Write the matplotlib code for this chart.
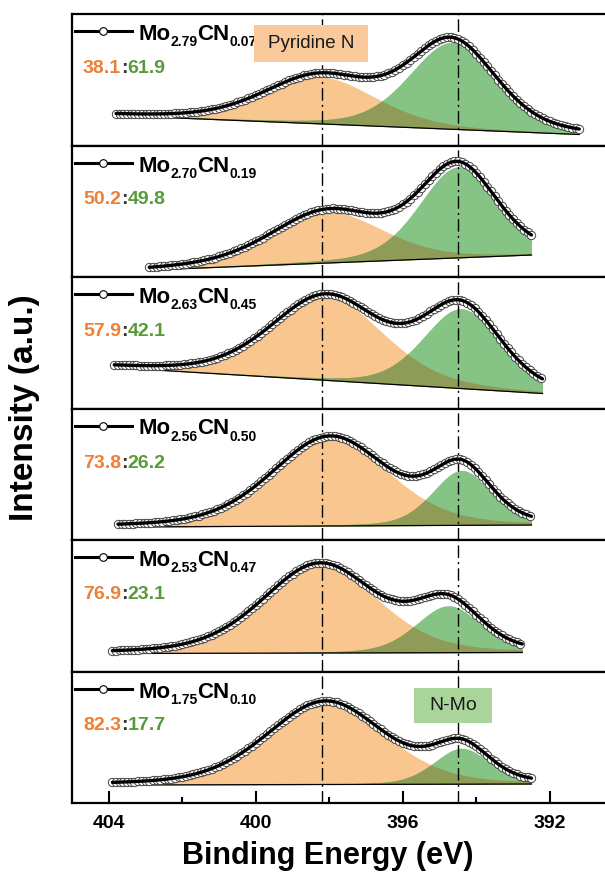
import numpy as np
import matplotlib
matplotlib.use('Agg')
import matplotlib.pyplot as plt
from matplotlib.patches import Rectangle

plt.rcParams['font.family'] = ['Liberation Sans', 'DejaVu Sans']

# ---------------- data ----------------
mo_sub = ['2.79', '2.70', '2.63', '2.56', '2.53', '1.75']
n_sub = ['0.07', '0.19', '0.45', '0.50', '0.47', '0.10']
pyridine_pct = ['38.1', '50.2', '57.9', '73.8', '76.9', '82.3']
nmo_pct = ['61.9', '49.8', '42.1', '26.2', '23.1', '17.7']

x_start = [403.8, 402.9, 403.85, 403.75, 403.9, 403.9]
x_end = [391.2, 392.5, 392.2, 392.5, 392.75, 392.5]
bg_start = [30, 7, 41, 13, 18, 18]
bg_end = [11, 22, 15, 15, 19, 19]

pyr_center = [398.25, 398.06, 398.06, 397.98, 398.25, 398.1]
pyr_height = [47, 51, 84, 89, 89, 83]
pyr_fwhm = [3.6, 3.6, 3.6, 3.75, 3.7, 3.8]

nmo_center = [394.65, 394.5, 394.4, 394.4, 394.76, 394.4]
nmo_height = [87, 91, 80, 55, 47, 36]
nmo_fwhm = [2.8, 2.5, 2.5, 1.9, 2.1, 1.8]

ref_lines = [398.2, 394.5]
xticks_major = [404, 400, 396, 392]
xticks_minor = [402, 398, 394]
energy_step = 0.1
gl_mix = 0.3

ORANGE_FILL = '#F9C690'
GREEN_FILL = '#86C486'
OLIVE = '#8E9C58'
ORANGE_TXT = '#EE8036'
GREEN_TXT = '#5A9A3A'


def peak(x, c, h, w):
    d2 = (x - c) ** 2 / w ** 2
    return h * ((1 - gl_mix) * np.exp(-4 * np.log(2) * d2) + gl_mix / (1 + 4 * d2))


fig = plt.figure(figsize=(6.05, 8.89), dpi=100)
H = 889.0
W = 605.0
gs = fig.add_gridspec(6, 1, left=72 / W, right=1.0, top=1 - 14 / H,
                      bottom=1 - 803 / H, hspace=0)
axes = [fig.add_subplot(gs[i]) for i in range(6)]

MAIN_FS = 16
SUB_FS = 10

for i, ax in enumerate(axes):
    xs = np.linspace(x_start[i], x_end[i], 600)
    bg = np.interp(xs, [x_end[i], x_start[i]], [bg_end[i], bg_start[i]])
    o = peak(xs, pyr_center[i], pyr_height[i], pyr_fwhm[i])
    g = peak(xs, nmo_center[i], nmo_height[i], nmo_fwhm[i])
    env = bg + o + g

    ax.fill_between(xs, bg, bg + o, color=ORANGE_FILL, lw=0, zorder=1)
    ax.fill_between(xs, bg, bg + g, color=GREEN_FILL, lw=0, zorder=1.1)
    ax.fill_between(xs, bg, bg + np.minimum(o, g), color=OLIVE, lw=0, zorder=1.2)
    ax.plot(xs, bg, color='black', lw=0.9, zorder=2)

    for xr in ref_lines:
        ax.axvline(xr, color='black', lw=1.0, ls=(0, (9, 3, 1.5, 3)), zorder=2.5)

    xp = np.arange(x_start[i], x_end[i] - 1e-6, -energy_step)
    bgp = np.interp(xp, [x_end[i], x_start[i]], [bg_end[i], bg_start[i]])
    yp = bgp + peak(xp, pyr_center[i], pyr_height[i], pyr_fwhm[i]) + \
        peak(xp, nmo_center[i], nmo_height[i], nmo_fwhm[i])
    ax.plot(xp, yp, 'o', ms=6, mfc='white', mec='#444444', mew=0.7, zorder=3)
    ax.plot(xs, env, color='black', lw=2.4, zorder=4, solid_capstyle='round')

    # legend-like handle
    yh = 1 - 17 / 131.5
    ax.plot([0.0056, 0.1126], [yh, yh], color='black', lw=2.2,
            transform=ax.transAxes, clip_on=False, zorder=5)
    ax.plot([0.058], [yh], 'o', ms=5.5, mfc='white', mec='black', mew=0.8,
            transform=ax.transAxes, clip_on=False, zorder=6)

    # sample name built from pieces (large symbols, small subscripts)
    tmo = ax.text(0.124, 1 - 26 / 131.5, 'Mo', transform=ax.transAxes,
                  fontsize=MAIN_FS, weight='bold', va='baseline', ha='left', zorder=6)
    ts1 = ax.annotate(mo_sub[i], xy=(1, 0), xycoords=tmo, xytext=(0, -3),
                      textcoords='offset points', fontsize=SUB_FS, weight='bold',
                      va='bottom', ha='left', zorder=6)
    tcn = ax.annotate('CN', xy=(1, 0), xycoords=(ts1, tmo), fontsize=MAIN_FS,
                      weight='bold', va='bottom', ha='left', zorder=6)
    ax.annotate(n_sub[i], xy=(1, 0), xycoords=tcn, xytext=(0, -3),
                textcoords='offset points', fontsize=SUB_FS, weight='bold',
                va='bottom', ha='left', zorder=6)

    t1 = ax.text(0.0206, 1 - 59 / 131.5, pyridine_pct[i], transform=ax.transAxes,
                 fontsize=14, weight='bold', color=ORANGE_TXT, va='baseline', ha='left')
    t2 = ax.annotate(':', xy=(1, 0), xycoords=t1, fontsize=14, weight='bold',
                     color='#333333', va='bottom', ha='left')
    ax.annotate(nmo_pct[i], xy=(1, 0), xycoords=t2, fontsize=14, weight='bold',
                color=GREEN_TXT, va='bottom', ha='left')

    ax.set_xlim(405.0, 390.5)
    ax.set_ylim(0, 131.5)
    ax.set_yticks([])
    ax.spines['right'].set_visible(False)
    for s in ['left', 'top', 'bottom']:
        ax.spines[s].set_linewidth(1.6)
    if i < 5:
        ax.set_xticks([])
    else:
        ax.set_xticks(xticks_major)
        ax.set_xticks(xticks_minor, minor=True)
        ax.set_xticklabels([str(t) for t in xticks_major])
        ax.tick_params(axis='x', which='major', direction='in', length=8.5,
                       width=1.5, pad=9, labelsize=14)
        ax.tick_params(axis='x', which='minor', direction='in', length=4,
                       width=1.5)
        for lab in ax.get_xticklabels():
            lab.set_fontweight('bold')

# annotation boxes
ax0 = axes[0]
ax0.add_patch(Rectangle((0.3415, 0.635), 0.2138, 0.2813, transform=ax0.transAxes,
                        facecolor='#F9C89B', edgecolor='none', zorder=7))
ax0.text(0.448, 0.776, 'Pyridine N', transform=ax0.transAxes, fontsize=13.5,
         ha='center', va='center', zorder=8, color='#1a1a1a')
ax5 = axes[5]
ax5.add_patch(Rectangle((0.6417, 0.6046), 0.1463, 0.2734, transform=ax5.transAxes,
                        facecolor='#A9D59B', edgecolor='none', zorder=7))
ax5.text(0.715, 0.741, 'N-Mo', transform=ax5.transAxes, fontsize=14,
         ha='center', va='center', zorder=8, color='#1a1a1a')

fig.text(0.542, 1 - 856 / H, 'Binding Energy (eV)', ha='center', va='center',
         fontsize=22, weight='bold')
fig.text(0.041, 1 - 408 / H, 'Intensity (a.u.)', ha='center', va='center',
         rotation=90, fontsize=24, weight='bold')

fig.savefig('out.png', dpi=100)
